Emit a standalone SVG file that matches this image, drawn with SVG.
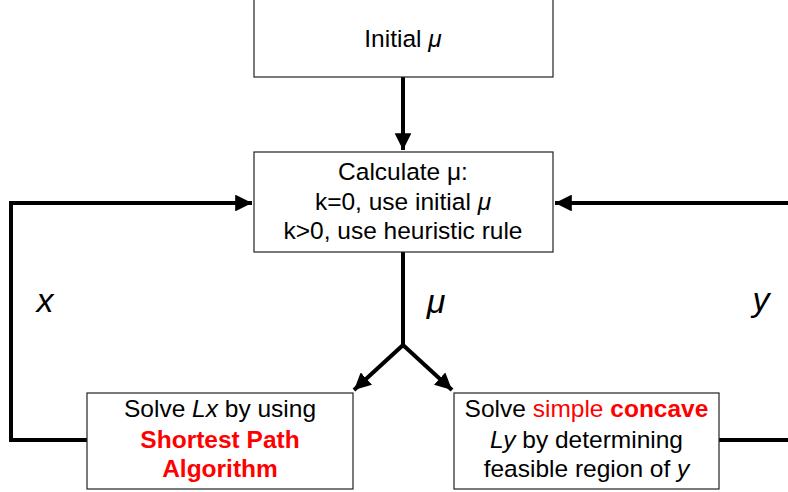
<svg xmlns="http://www.w3.org/2000/svg" width="788" height="492" viewBox="0 0 788 492">
<style>
text{font-family:"Liberation Sans",Arial,sans-serif;font-size:24.5px;fill:#000;text-anchor:middle}
.lbl{font-size:34px;font-style:italic}
.box{fill:#fff;stroke:#222;stroke-width:1.2}
.red{fill:#ff0000}
.b{font-weight:bold}
.i{font-style:italic}
.con{fill:none;stroke:#000;stroke-width:4;stroke-linejoin:miter}
</style>
<defs>
<marker id="ah" viewBox="0 0 10 10" refX="10" refY="5" markerWidth="4.2" markerHeight="4.2" orient="auto" markerUnits="strokeWidth">
<path d="M0,0 L10,5 L0,10 z" fill="#000"/>
</marker>
</defs>
<g id="connectors">
<path class="con" d="M403,77 V150" marker-end="url(#ah)"/>
<path class="con" d="M87,440 H11 V203 H252" marker-end="url(#ah)"/>
<path class="con" d="M719,440 H788"/>
<path class="con" d="M788,203 H555" marker-end="url(#ah)"/>
<path class="con" d="M403,252 V345 L354,390" marker-end="url(#ah)"/>
<path class="con" d="M403,345 L452,390" marker-end="url(#ah)"/>
<text class="lbl" x="45" y="312">x</text>
<text class="lbl" x="761" y="311">y</text>
<text class="lbl" x="436" y="313">μ</text>
</g>
<g id="initial">
<rect class="box" x="254" y="-1" width="299" height="78"/>
<text x="403" y="47">Initial <tspan class="i">μ</tspan></text>
</g>
<g id="calculate">
<rect class="box" x="254" y="152" width="299" height="100"/>
<text x="403" y="180">Calculate μ:</text>
<text x="403" y="210">k=0, use initial <tspan class="i">μ</tspan></text>
<text x="403" y="239">k&gt;0, use heuristic rule</text>
</g>
<g id="solveLx">
<rect class="box" x="87" y="393" width="266" height="96"/>
<text x="220" y="417">Solve <tspan class="i">Lx</tspan> by using</text>
<text x="220" y="448" class="red b">Shortest Path</text>
<text x="220" y="477" class="red b">Algorithm</text>
</g>
<g id="solveLy">
<rect class="box" x="454" y="393" width="265" height="96"/>
<text x="586.5" y="417">Solve <tspan class="red">simple</tspan> <tspan class="red b">concave</tspan></text>
<text x="586.5" y="448"><tspan class="i">Ly</tspan> by determining</text>
<text x="586.5" y="477">feasible region of <tspan class="i">y</tspan></text>
</g>
</svg>
